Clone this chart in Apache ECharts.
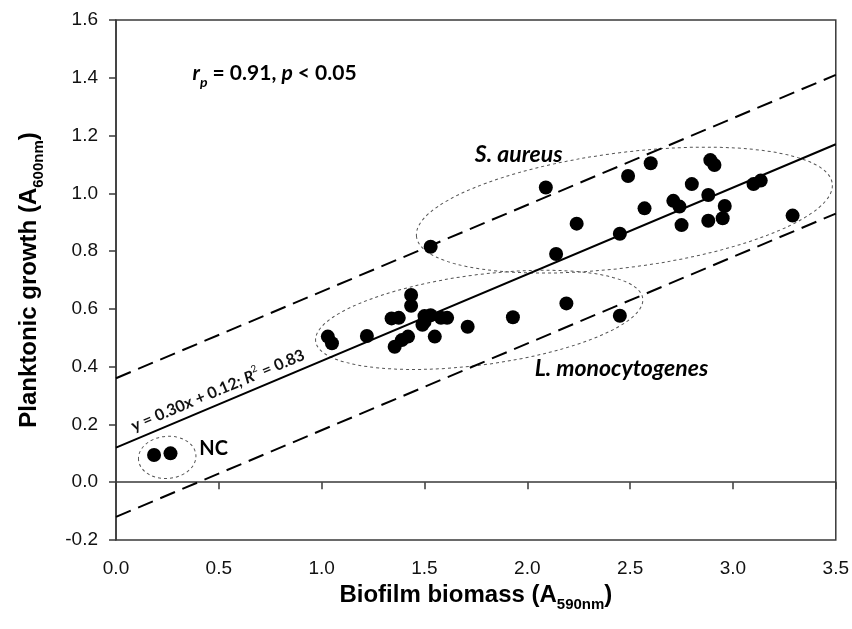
<!DOCTYPE html>
<html>
<head>
<meta charset="utf-8">
<script src="https://cdn.jsdelivr.net/npm/echarts@6/dist/echarts.min.js"></script>
<style>
  html, body { margin: 0; padding: 0; background: #fff; }
  #main { width: 852px; height: 629px; }
</style>
</head>
<body>
<div id="main"></div>
<script>
// S. aureus isolates [biofilm A590, planktonic A600]
var aureusX = [1.53, 2.09, 2.14, 2.24, 2.45, 2.49, 2.57, 2.60, 2.71, 2.74, 2.75, 2.80, 2.88, 2.89, 2.91, 2.88, 2.96, 2.95, 3.10, 3.135, 3.29];
var aureusY = [0.815, 1.02, 0.79, 0.895, 0.86, 1.06, 0.948, 1.104, 0.974, 0.954, 0.89, 1.032, 0.994, 1.115, 1.098, 0.905, 0.956, 0.914, 1.032, 1.044, 0.923];

// L. monocytogenes isolates
var listeriaX = [1.03, 1.05, 1.22, 1.34, 1.375, 1.435, 1.435, 1.355, 1.39, 1.42, 1.49, 1.50, 1.53, 1.50, 1.55, 1.58, 1.61, 1.71, 1.93, 2.19, 2.45];
var listeriaY = [0.504, 0.481, 0.506, 0.567, 0.569, 0.648, 0.611, 0.469, 0.492, 0.504, 0.545, 0.575, 0.578, 0.555, 0.504, 0.569, 0.569, 0.538, 0.571, 0.619, 0.576];

// negative controls
var ncX = [0.185, 0.265];
var ncY = [0.094, 0.10];

// regression y = 0.30x + 0.12 and its prediction band
var fitSlope = 0.30;
var fitIntercept = 0.12;
var bandHalfWidth = 0.24;
var fitRange = [0, 3.5];

var xTicks = [0, 0.5, 1.0, 1.5, 2.0, 2.5, 3.0, 3.5];
var yTicks = [-0.2, 0, 0.2, 0.4, 0.6, 0.8, 1.0, 1.2, 1.4, 1.6];

function pairs(xs, ys) {
  return xs.map(function (x, i) { return [x, ys[i]]; });
}
function fitLine(offset) {
  return fitRange.map(function (x) { return [x, fitSlope * x + fitIntercept + offset]; });
}

var axisColor = '#3a3a3a';
var sansFont = 'Liberation Sans';
var noteFont = 'Lato';

var chart = echarts.init(document.getElementById('main'), null, { renderer: 'canvas' });

var dotStyle = { color: '#000', opacity: 1 };

var titleRich = {
  b: { fontSize: 24, fontWeight: 'bold', fontFamily: sansFont, color: '#000', lineHeight: 34 },
  s: { fontSize: 15, fontWeight: 'bold', fontFamily: sansFont, color: '#000', verticalAlign: 'bottom' }
};

var option = {
  backgroundColor: '#ffffff',
  animation: false,
  grid: {
    left: 116,
    right: 13,
    top: 20,
    bottom: 89,
    show: true,
    borderColor: axisColor,
    borderWidth: 1.5
  },
  xAxis: {
    type: 'value',
    min: xTicks[0],
    max: xTicks[xTicks.length - 1],
    interval: 0.5,
    splitLine: { show: false },
    axisLine: { lineStyle: { color: axisColor, width: 1.5 } },
    axisTick: { inside: false, length: 7, lineStyle: { color: axisColor, width: 1.5 } },
    axisLabel: {
      margin: 19,
      fontSize: 19,
      fontFamily: sansFont,
      color: '#111',
      formatter: function (v) { return v.toFixed(1); }
    },
    name: '{b|Biofilm biomass (A}{s|590nm}{b|)}',
    nameLocation: 'middle',
    nameGap: 35,
    nameTextStyle: { rich: titleRich }
  },
  yAxis: {
    type: 'value',
    min: yTicks[0],
    max: yTicks[yTicks.length - 1],
    interval: 0.2,
    splitLine: { show: false },
    axisLine: { lineStyle: { color: axisColor, width: 1.5 } },
    axisTick: { inside: false, length: 7, lineStyle: { color: axisColor, width: 1.5 } },
    axisLabel: {
      margin: 18,
      fontSize: 19,
      fontFamily: sansFont,
      color: '#111',
      formatter: function (v) { return v.toFixed(1); }
    },
    name: '{b|Planktonic growth (A}{s|600nm}{b|)}',
    nameLocation: 'middle',
    nameGap: 70,
    nameTextStyle: { rich: titleRich }
  },
  series: [
    {
      name: 'fit',
      type: 'line',
      data: fitLine(0),
      symbol: 'none',
      lineStyle: { color: '#000', width: 2 },
      z: 3
    },
    {
      name: 'upper',
      type: 'line',
      data: fitLine(bandHalfWidth),
      symbol: 'none',
      lineStyle: { color: '#000', width: 2, type: [16, 8] },
      z: 3
    },
    {
      name: 'lower',
      type: 'line',
      data: fitLine(-bandHalfWidth),
      symbol: 'none',
      lineStyle: { color: '#000', width: 2, type: [16, 8] },
      z: 3
    },
    {
      name: 'S. aureus',
      type: 'scatter',
      data: pairs(aureusX, aureusY),
      symbolSize: 14,
      itemStyle: dotStyle,
      z: 5
    },
    {
      name: 'L. monocytogenes',
      type: 'scatter',
      data: pairs(listeriaX, listeriaY),
      symbolSize: 14,
      itemStyle: dotStyle,
      z: 5
    },
    {
      name: 'NC',
      type: 'scatter',
      data: pairs(ncX, ncY),
      symbolSize: 14,
      itemStyle: dotStyle,
      z: 5
    }
  ]
};

chart.setOption(option);

// group outlines, in data units: centre, half-width (x), half-height (y), tilt in degrees
var groupOutlines = [
  { c: [2.472, 0.942], rx: 1.019, ry: 0.199, tilt: 7.3 },
  { c: [1.766, 0.562], rx: 0.802, ry: 0.156, tilt: 7.5 },
  { c: [0.249, 0.086], rx: 0.140, ry: 0.073, tilt: 5 }
];

// text notes anchored in data units
var notes = [
  { at: [0.372, 1.416], text: '{i|r}{sub|p}{b| = 0.91, }{i|p}{b| < 0.05}', size: 21 },
  { at: [1.745, 1.133], text: '{i|S. aureus}', size: 23 },
  { at: [2.036, 0.395], text: '{i|L. monocytogenes}', size: 23 },
  { at: [0.405, 0.118], text: '{b|NC}', size: 20 }
];

function px(p) { return chart.convertToPixel({ gridIndex: 0 }, p); }

var graphics = [];
groupOutlines.forEach(function (g) {
  var c = px(g.c);
  var dx = px([g.c[0] + g.rx, g.c[1]])[0] - c[0];
  var dy = c[1] - px([g.c[0], g.c[1] + g.ry])[1];
  graphics.push({
    type: 'ellipse',
    x: c[0],
    y: c[1],
    rotation: g.tilt * Math.PI / 180,
    shape: { cx: 0, cy: 0, rx: dx, ry: dy },
    style: { fill: 'none', stroke: '#555', lineWidth: 1, lineDash: [3, 3] },
    z: 2
  });
});

notes.forEach(function (n) {
  var p = px(n.at);
  graphics.push({
    type: 'text',
    x: p[0],
    y: p[1],
    style: {
      text: n.text,
      align: 'left',
      verticalAlign: 'middle',
      fill: '#000',
      rich: {
        b: { fontSize: n.size, fontWeight: 'bold', fontFamily: noteFont, fill: '#000' },
        i: { fontSize: n.size, fontWeight: 'bold', fontStyle: 'italic', fontFamily: noteFont, fill: '#000' },
        sub: { fontSize: 14, fontWeight: 'bold', fontStyle: 'italic', fontFamily: noteFont, fill: '#000', verticalAlign: 'bottom', lineHeight: 32 }
      }
    },
    z: 6
  });
});

// equation along the fitted line
var eqAt = 0.52;
var eqA = px([0, fitIntercept]);
var eqB = px([fitRange[1], fitSlope * fitRange[1] + fitIntercept]);
var eqAngle = Math.atan2(eqA[1] - eqB[1], eqB[0] - eqA[0]);
var eqP = px([eqAt, fitSlope * eqAt + fitIntercept]);
graphics.push({
  type: 'text',
  x: eqP[0] - 13 * Math.sin(eqAngle),
  y: eqP[1] - 13 * Math.cos(eqAngle),
  rotation: eqAngle,
  style: {
    text: '{t|y = 0.30x + 0.12; }{ti|R}{sup|2}{t| = 0.83}',
    align: 'center',
    verticalAlign: 'middle',
    rich: {
      t: { fontSize: 16, fontFamily: noteFont, fontWeight: 'bold', fill: '#111' },
      ti: { fontSize: 16, fontFamily: noteFont, fontWeight: 'bold', fontStyle: 'italic', fill: '#111' },
      sup: { fontSize: 10, fontFamily: noteFont, fill: '#111', verticalAlign: 'top', lineHeight: 22 }
    }
  },
  z: 6
});

chart.setOption({ graphic: graphics });
</script>
</body>
</html>
